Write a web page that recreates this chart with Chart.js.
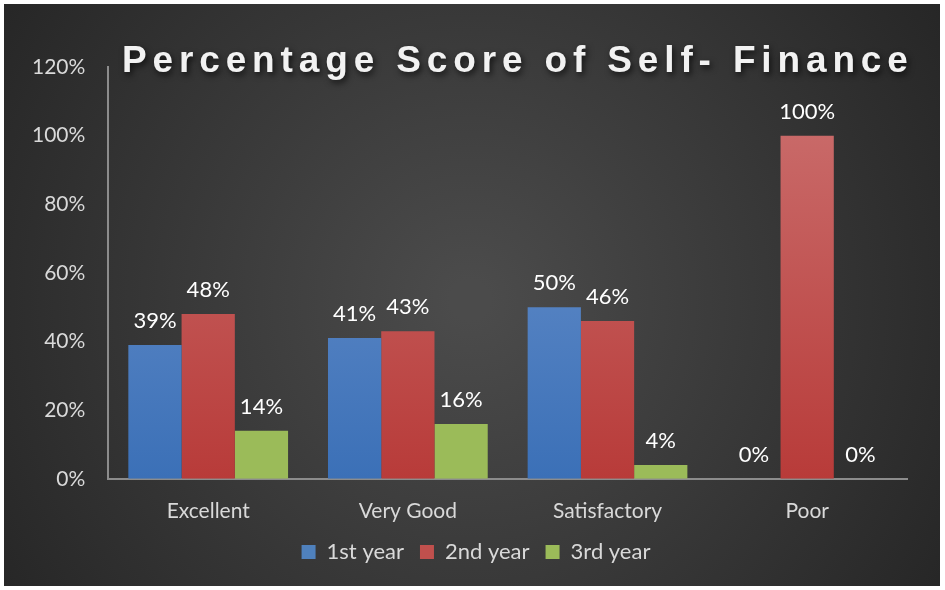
<!DOCTYPE html>
<html>
<head>
<meta charset="utf-8">
<script src="https://cdn.jsdelivr.net/npm/chart.js@4"></script>
<style>
  html, body { margin: 0; padding: 0; background: #ffffff; }
  #wrap { width: 945px; height: 590px; position: relative; }
</style>
</head>
<body>
<div id="wrap"><canvas id="score-chart" width="945" height="590"></canvas></div>
<script>
const categories = ['Excellent', 'Very Good', 'Satisfactory', 'Poor'];
const firstYear = [39, 41, 50, 0];
const secondYear = [48, 43, 46, 100];
const thirdYear = [14, 16, 4, 0];
const yTicks = [0, 20, 40, 60, 80, 100, 120];
const titleText = 'Percentage Score of Self- Finance';

const textColor = '#d9d9d9';
const baseFont = 'Lato, "Open Sans", sans-serif';

function barGradient(top, bottom) {
    return function(context) {
        const area = context.chart.chartArea;
        if (!area) return bottom;
        const g = context.chart.ctx.createLinearGradient(0, area.top + 60, 0, area.bottom);
        g.addColorStop(0, top);
        g.addColorStop(1, bottom);
        return g;
    };
}

// dark radial backdrop, and nudge the legend toward the page centre
const backdrop = {
    id: 'backdrop',
    beforeDraw(chart) {
        const ctx = chart.ctx;
        ctx.save();
        const g = ctx.createRadialGradient(470, 300, 20, 470, 300, 560);
        g.addColorStop(0, '#4b4b4b');
        g.addColorStop(1, '#262626');
        ctx.fillStyle = g;
        ctx.fillRect(4, 4, 936, 582);
        ctx.restore();
        if (!chart.legend._shifted) {
            chart.legend.left += 18;
            chart.legend.right += 18;
            chart.legend._shifted = true;
        }
    }
};

// value labels above each bar
const valueLabels = {
    id: 'valueLabels',
    afterDatasetsDraw(chart) {
        const ctx = chart.ctx;
        ctx.save();
        ctx.font = '22px ' + baseFont;
        ctx.fillStyle = '#ffffff';
        ctx.textAlign = 'center';
        ctx.textBaseline = 'bottom';
        chart.data.datasets.forEach((ds, i) => {
            chart.getDatasetMeta(i).data.forEach((bar, j) => {
                ctx.fillText(ds.data[j] + '%', bar.x, bar.y - 13);
            });
        });
        ctx.restore();
    }
};

// spaced-out title drawn over the plot
const wideTitle = {
    id: 'wideTitle',
    afterDraw(chart) {
        const ctx = chart.ctx;
        ctx.save();
        ctx.font = 'bold 37px "Liberation Sans", Arial, sans-serif';
        const plain = ctx.measureText(titleText).width;
        const spacing = (786 - plain) / (titleText.length - 1);
        ctx.letterSpacing = spacing.toFixed(2) + 'px';
        ctx.textAlign = 'left';
        ctx.textBaseline = 'middle';
        ctx.shadowColor = 'rgba(0,0,0,0.7)';
        ctx.shadowBlur = 6;
        ctx.shadowOffsetX = 2;
        ctx.shadowOffsetY = 3;
        ctx.fillStyle = '#f2f2f2';
        ctx.fillText(titleText, 122, 62);
        ctx.restore();
    }
};

const ctx = document.getElementById('score-chart').getContext('2d');
const chart = new Chart(ctx, {
    type: 'bar',
    data: {
        labels: categories,
        datasets: [
            { label: '1st year', data: firstYear, backgroundColor: barGradient('#6b92cc', '#3b70b7') },
            { label: '2nd year', data: secondYear, backgroundColor: barGradient('#c96a69', '#b83b39') },
            { label: '3rd year', data: thirdYear, backgroundColor: '#9bbb59' }
        ]
    },
    options: {
        responsive: false,
        animation: false,
        layout: { padding: { top: 67, right: 38, left: 9, bottom: 17 } },
        datasets: { bar: { categoryPercentage: 0.8, barPercentage: 1.0 } },
        scales: {
            x: {
                grid: { display: false, drawTicks: false },
                border: { display: true, color: '#8c8c8c', width: 2 },
                ticks: { color: textColor, font: { size: 21, family: baseFont }, padding: 20 },
                afterFit(axis) { axis.height -= 19; }
            },
            y: {
                min: 0,
                max: 120,
                afterBuildTicks(axis) { axis.ticks = yTicks.map(v => ({ value: v })); },
                grid: { display: false, drawTicks: false },
                border: { display: true, color: '#8c8c8c', width: 2 },
                ticks: {
                    color: textColor,
                    font: { size: 21, family: baseFont },
                    padding: 23,
                    callback: v => v + '%'
                }
            }
        },
        plugins: {
            title: { display: false },
            tooltip: { enabled: false },
            legend: {
                position: 'bottom',
                labels: {
                    color: textColor,
                    font: { size: 22, family: baseFont },
                    boxWidth: 14,
                    boxHeight: 14,
                    padding: 16,
                    generateLabels(chart) {
                        const solid = ['#4f81bd', '#c0504d', '#9bbb59'];
                        return chart.data.datasets.map((ds, i) => ({
                            text: ds.label,
                            fillStyle: solid[i],
                            strokeStyle: solid[i],
                            lineWidth: 0,
                            fontColor: textColor,
                            datasetIndex: i
                        }));
                    }
                }
            }
        }
    },
    plugins: [backdrop, valueLabels, wideTitle]
});
</script>
</body>
</html>
